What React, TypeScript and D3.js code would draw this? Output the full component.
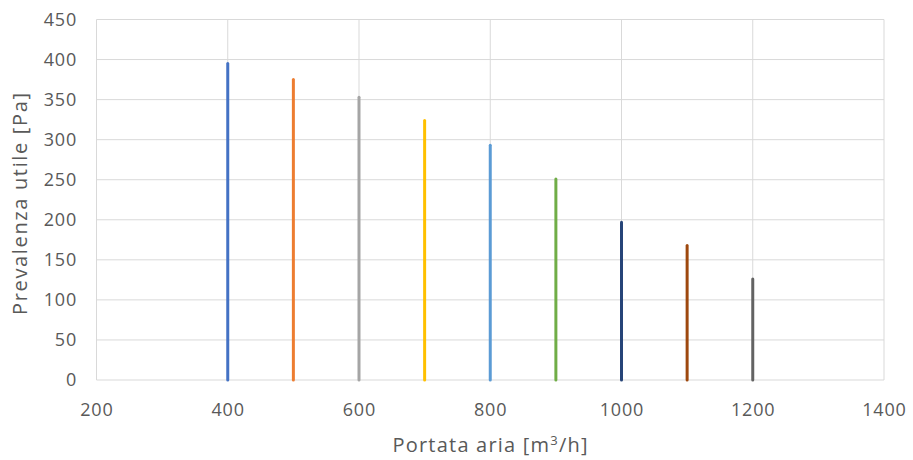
import React from "react";
import * as d3 from "d3";

const flows = [400, 500, 600, 700, 800, 900, 1000, 1100, 1200];
const pressures = [395, 375, 353, 324, 293, 251, 197, 168, 126];
const colors = ["#4472C4", "#ED7D31", "#A5A5A5", "#FFC000", "#5B9BD5", "#70AD47", "#264478", "#9E480E", "#636363"];
const xTicks = [200, 400, 600, 800, 1000, 1200, 1400];
const yTicks = [0, 50, 100, 150, 200, 250, 300, 350, 400, 450];

export default function App() {
  const W = 913, H = 460;
  const left = 96.5, right = 884, top = 19.5, bottom = 380;
  const x = d3.scaleLinear().domain([200, 1400]).range([left, right]);
  const y = d3.scaleLinear().domain([0, 450]).range([bottom, top]);
  const font = "'Open Sans', 'Liberation Sans', sans-serif";
  const tc = "#595959";
  return (
    <svg width={W} height={H} style={{ position: "absolute", left: 0, top: 0, background: "#fff" }}>
      {yTicks.map((t) => (
        <line key={"gy" + t} x1={left} x2={right} y1={y(t)} y2={y(t)} stroke="#D9D9D9" strokeWidth={1} />
      ))}
      {xTicks.map((t) => (
        <line key={"gx" + t} x1={x(t)} x2={x(t)} y1={top} y2={bottom} stroke="#D9D9D9" strokeWidth={1} />
      ))}
      {flows.map((f, i) => (
        <line key={"s" + i} x1={x(f)} x2={x(f)} y1={y(0)} y2={y(pressures[i])} stroke={colors[i]} strokeWidth={3} strokeLinecap="round" />
      ))}
      {yTicks.map((t) => (
        <text key={"ty" + t} x={77} y={y(t)} dy="0.35em" textAnchor="end" fontFamily={font} fontSize={18} letterSpacing={0.8} fill={tc}>{t}</text>
      ))}
      {xTicks.map((t) => (
        <text key={"tx" + t} x={x(t) + 0.4} y={410} dy="0.35em" textAnchor="middle" fontFamily={font} fontSize={18} letterSpacing={0.8} fill={tc}>{t}</text>
      ))}
      <text x={490} y={445} dy="0.35em" textAnchor="middle" fontFamily={font} fontSize={20} fill={tc} textLength={195} lengthAdjust="spacing">
        Portata aria [m<tspan dy="-7" fontSize={13}>3</tspan><tspan dy="7">/h]</tspan>
      </text>
      <text transform={`translate(20,204) rotate(-90)`} dy="0.35em" textAnchor="middle" fontFamily={font} fontSize={20} fill={tc} textLength={222} lengthAdjust="spacing">
        Prevalenza utile [Pa]
      </text>
    </svg>
  );
}
